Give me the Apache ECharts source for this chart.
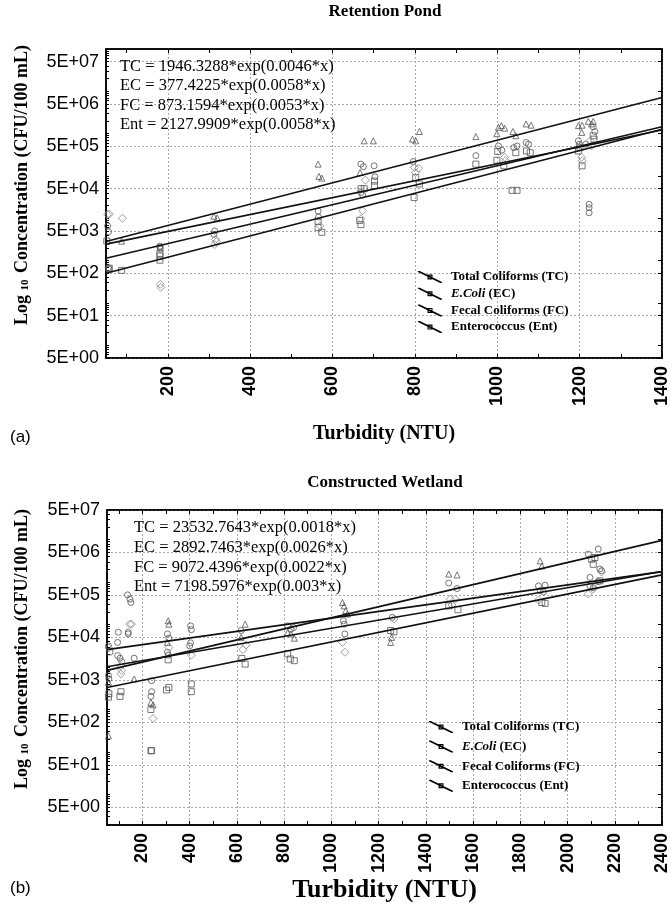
<!DOCTYPE html>
<html><head><meta charset="utf-8">
<script src="https://cdn.jsdelivr.net/npm/echarts@6/dist/echarts.min.js"></script>
<style>html,body{margin:0;padding:0;background:#fff}#c{width:671px;height:906px}</style>
</head><body><div id="c"></div>
<script>
// ---------- data ----------
const seriesNames = ['Total Coliforms (TC)', 'E.Coli (EC)', 'Fecal Coliforms (FC)', 'Enterococcus (Ent)'];
const seriesSymbols = ['circle', 'rect', 'diamond', 'triangle'];

const pondTitle = 'Retention Pond';
const wetTitle = 'Constructed Wetland';
const pondFitA = [1946.3288, 377.4225, 873.1594, 2127.9909];
const pondFitB = [0.0046, 0.0058, 0.0053, 0.0058];
const wetFitA = [23532.7643, 2892.7463, 9072.4396, 7198.5976];
const wetFitB = [0.0018, 0.0026, 0.0022, 0.003];
const pondEquations = ['TC = 1946.3288*exp(0.0046*x)', 'EC = 377.4225*exp(0.0058*x)', 'FC = 873.1594*exp(0.0053*x)', 'Ent = 2127.9909*exp(0.0058*x)'];
const wetEquations = ['TC = 23532.7643*exp(0.0018*x)', 'EC = 2892.7463*exp(0.0026*x)', 'FC = 9072.4396*exp(0.0022*x)', 'Ent = 7198.5976*exp(0.003*x)'];

const pondXTicks = [200, 400, 600, 800, 1000, 1200, 1400];
const wetXTicks = [200, 400, 600, 800, 1000, 1200, 1400, 1600, 1800, 2000, 2200, 2400];
const yTickExponents = [0, 1, 2, 3, 4, 5, 6, 7]; // labels 5E+00 ... 5E+07

// scatter points: [turbidity NTU, log10 concentration CFU/100 mL]
const pondTC = [[54,3.82],[56,3.68],[56,2.83],[57,2.80],[181,3.32],[181,3.34],[182,3.27],[314,3.70],[312,3.62],[565,4.17],[566,4.03],[669,5.28],[675,5.22],[669,4.61],[673,4.55],[701,5.24],[703,4.98],[796,5.34],[948,5.48],[1003,5.71],[1011,5.61],[1040,5.67],[1048,5.71],[1070,5.79],[1076,5.75],[1197,5.83],[1199,5.75],[1223,4.33],[1223,4.25],[1223,4.13],[1233,6.16],[1237,6.05],[1215,5.75]];
const pondEC = [[52,3.46],[58,2.82],[88,2.77],[181,3.17],[181,3.11],[181,3.01],[565,3.78],[574,3.67],[565,3.93],[669,4.70],[677,4.70],[666,3.95],[669,3.85],[702,4.88],[702,4.77],[802,4.96],[811,4.81],[798,4.49],[948,5.28],[1001,5.58],[999,5.37],[1016,5.24],[1045,5.55],[1036,4.66],[1048,4.66],[1071,5.59],[1080,5.55],[1201,5.67],[1197,5.59],[1206,5.24],[1233,5.95],[1235,5.87]];
const pondFC = [[54,4.09],[58,4.10],[90,4.00],[182,2.44],[183,2.37],[316,3.50],[318,3.45],[314,3.38],[570,3.82],[680,4.90],[673,4.18],[669,3.99],[799,5.20],[809,5.18],[802,5.08],[1018,5.44],[1020,5.36],[1205,5.44],[1206,5.36],[1225,5.83],[1229,5.71]];
const pondEnt = [[88,3.46],[312,4.05],[320,4.01],[565,5.28],[567,4.99],[574,4.95],[667,5.08],[677,5.83],[699,5.83],[794,5.87],[802,5.83],[811,6.05],[948,5.93],[1003,6.15],[1010,6.19],[1018,6.13],[999,6.00],[1038,6.05],[1045,5.95],[1070,6.23],[1082,6.20],[1197,6.19],[1206,6.20],[1205,6.03],[1221,6.29],[1233,6.29],[1229,6.23]];

const wetTC = [[56,4.50],[63,4.35],[56,3.80],[58,3.72],[98,4.82],[95,4.58],[95,4.27],[105,4.21],[112,4.13],[137,5.70],[147,5.60],[151,5.52],[140,4.82],[140,4.78],[165,4.21],[239,3.68],[239,3.42],[236,3.31],[306,4.78],[312,4.68],[306,4.35],[309,4.28],[404,4.97],[407,4.88],[404,4.57],[400,4.50],[618,4.86],[815,4.97],[829,4.89],[840,4.93],[1051,5.09],[1054,5.01],[1057,4.78],[1258,5.17],[1497,5.98],[1532,5.85],[1877,5.91],[1905,5.93],[1884,5.80],[1898,5.77],[2088,6.66],[2130,6.78],[2095,6.11],[2144,6.27],[2137,6.31],[2095,5.91],[2109,5.87],[2130,6.01]];
const wetEC = [[58,3.37],[56,3.29],[109,3.42],[105,3.31],[236,3.00],[236,2.03],[239,2.03],[309,4.17],[302,3.46],[312,3.52],[407,3.60],[407,3.42],[621,4.20],[635,4.07],[815,4.31],[826,4.19],[843,4.15],[1251,4.86],[1265,4.83],[1497,5.44],[1536,5.35],[1891,5.52],[1905,5.50],[2102,6.54],[2116,6.58],[2109,6.42],[2137,6.03]];
const wetFC = [[58,4.45],[109,4.03],[112,3.92],[109,3.84],[147,5.01],[154,5.01],[245,2.79],[312,4.46],[407,4.28],[625,4.41],[639,4.52],[1047,4.58],[1057,4.35],[1265,5.13],[1504,5.60],[1525,5.60],[1511,5.46],[1877,5.58],[2088,5.72],[2109,5.84],[2144,6.24]];
const wetEnt = [[56,2.38],[56,3.64],[165,3.72],[236,3.17],[245,3.11],[309,5.09],[312,5.01],[306,4.58],[635,5.01],[618,4.70],[815,4.81],[829,4.78],[843,4.68],[1047,5.52],[1054,5.44],[1061,5.33],[1068,5.25],[1255,4.70],[1251,4.58],[1497,6.19],[1532,6.17],[1884,6.50],[1891,6.38]];

// ---------- chart ----------
const LOG5 = Math.log10(5);
const pondScatter = [pondTC, pondEC, pondFC, pondEnt];
const wetScatter = [wetTC, wetEC, wetFC, wetEnt];
const panels = [
  { grid: { left: 106, top: 49, width: 558, height: 309 }, xMin: 50, xMax: 1400, yMin: LOG5, yMax: 8,
    xTicks: pondXTicks, scatter: pondScatter, A: pondFitA, B: pondFitB, nameGap: 66, nameSize: 20 },
  { grid: { left: 107, top: 510, width: 557, height: 315 }, xMin: 50, xMax: 2400, yMin: 0.28, yMax: 7 + LOG5,
    xTicks: wetXTicks, scatter: wetScatter, A: wetFitA, B: wetFitB, nameGap: 46, nameSize: 26 }
];

const yMajor = yTickExponents.map(n => n + LOG5);
const yMinor = [];
for (let n = 0; n <= 8; n++) for (let k = 1; k <= 9; k++) yMinor.push(n + Math.log10(k));
const yRight = [];
for (let n = 0; n <= 8; n++) { yRight.push(n); yRight.push(n + LOG5); }

const SANS = 'Liberation Sans';
const SERIF = 'Liberation Serif';
const grids = [], xAxes = [], yAxes = [], series = [];

panels.forEach((p, gi) => {
  grids.push(Object.assign({ show: true, borderColor: '#000', borderWidth: 1.5, backgroundColor: 'transparent' }, p.grid));
  const minorX = [];
  for (let v = 100; v <= p.xMax; v += 100) minorX.push(v);
  const xBase = { type: 'value', gridIndex: gi, min: p.xMin, max: p.xMax };
  const xi = xAxes.length;
  xAxes.push(Object.assign({}, xBase, {
    position: 'bottom',
    name: 'Turbidity (NTU)', nameLocation: 'middle', nameGap: p.nameGap,
    nameTextStyle: { fontFamily: SERIF, fontWeight: 'bold', fontSize: p.nameSize, color: '#000' },
    axisLine: { show: true, onZero: false, lineStyle: { color: '#000', width: 1.5 } },
    axisTick: { show: false, customValues: p.xTicks },
    axisLabel: { rotate: 90, margin: 8, fontFamily: SANS, fontWeight: 'bold', fontSize: 18, color: '#000', customValues: p.xTicks,
      formatter: v => String(Math.round(v)) },
    splitLine: { show: true, lineStyle: { color: '#aaa', type: [2, 2], width: 1 } }
  }));
  xAxes.push(Object.assign({}, xBase, {
    position: 'bottom', axisLine: { show: false },
    axisTick: { show: true, inside: true, length: 4, customValues: minorX, lineStyle: { color: '#000' } },
    axisLabel: { show: false }, splitLine: { show: false }
  }));
  xAxes.push(Object.assign({}, xBase, {
    position: 'top', axisLine: { show: true, onZero: false, lineStyle: { color: '#000', width: 1.5 } },
    axisTick: { show: true, inside: true, length: 4, customValues: minorX, lineStyle: { color: '#000' } },
    axisLabel: { show: false }, splitLine: { show: false }
  }));
  const yBase = { type: 'value', gridIndex: gi, min: p.yMin, max: p.yMax };
  const yi = yAxes.length;
  yAxes.push(Object.assign({}, yBase, {
    position: 'left',
    axisLine: { show: true, onZero: false, lineStyle: { color: '#000', width: 1.5 } },
    axisTick: { show: false, customValues: yMajor },
    axisLabel: { margin: 7, fontFamily: SANS, fontSize: 18, color: '#000', customValues: yMajor,
      formatter: v => '5E+' + String(Math.round(v - LOG5)).padStart(2, '0') },
    splitLine: { show: true, lineStyle: { color: '#aaa', type: [2, 2], width: 1 } }
  }));
  yAxes.push(Object.assign({}, yBase, {
    position: 'left', axisLine: { show: false },
    axisTick: { show: true, inside: true, length: 3, customValues: yMinor, lineStyle: { color: '#000' } },
    axisLabel: { show: false }, splitLine: { show: false }
  }));
  yAxes.push(Object.assign({}, yBase, {
    position: 'right', axisLine: { show: true, onZero: false, lineStyle: { color: '#000', width: 1.5 } },
    axisTick: { show: true, inside: true, length: 4, customValues: yRight, lineStyle: { color: '#000' } },
    axisLabel: { show: false }, splitLine: { show: false }
  }));
  // fit lines from the printed equations
  seriesNames.forEach((nm, i) => {
    const f = x => Math.log10(p.A[i]) + p.B[i] * x * Math.LOG10E;
    series.push({ name: nm, type: 'line', xAxisIndex: xi, yAxisIndex: yi, symbol: 'none', z: 4, silent: true,
      data: [[p.xMin, f(p.xMin)], [p.xMax, f(p.xMax)]],
      lineStyle: { color: '#111', width: 1.6 }, itemStyle: { color: '#000' } });
  });
  seriesNames.forEach((nm, i) => {
    series.push({ name: nm, type: 'scatter', xAxisIndex: xi, yAxisIndex: yi, symbol: seriesSymbols[i],
      symbolSize: i === 2 ? 8 : 6, z: 3, silent: true, data: p.scatter[i],
      itemStyle: { color: 'rgba(255,255,255,0)', borderColor: i === 2 ? '#888' : '#555', borderWidth: 1 } });
  });
});

const legendIcon = 'path://M0,0 L1.8,0 L24,11 L24,12 L22.2,12 L0,1 Z M9.5,3.5 L14.5,3.5 L14.5,8.5 L9.5,8.5 Z M10.7,4.7 L10.7,7.3 L13.3,7.3 L13.3,4.7 Z';
function legendOf(left, top, gap) {
  return {
    orient: 'vertical', left: left, top: top, padding: 0, itemWidth: 24, itemHeight: 12, itemGap: gap,
    icon: legendIcon, data: seriesNames, selectedMode: false,
    itemStyle: { color: '#000', borderWidth: 0 },
    formatter: n => n === 'E.Coli (EC)' ? '{i|E.Coli} (EC)' : n,
    textStyle: { fontFamily: SERIF, fontWeight: 'bold', fontSize: 13, color: '#000', lineHeight: 14, padding: [0, 0, 0, 4],
      rich: { i: { fontFamily: SERIF, fontWeight: 'bold', fontStyle: 'italic', fontSize: 13, color: '#000', lineHeight: 14 } } }
  };
}

function eqText(lines, x, y, lh) {
  return { type: 'text', x: x, y: y, silent: true, z: 10,
    style: { text: lines.join('\n'), fontFamily: SERIF, fontSize: 16.5, lineHeight: lh, fill: '#000', align: 'left', verticalAlign: 'top' } };
}
function yTitle(cx, cy) {
  return { type: 'text', x: cx, y: cy, rotation: Math.PI / 2, silent: true,
    style: { text: '{a|Log }{s|10}{a| Concentration (CFU/100 mL)}', align: 'center', verticalAlign: 'middle', fill: '#000',
      rich: { a: { fontFamily: SERIF, fontWeight: 'bold', fontSize: 18, fill: '#000' },
              s: { fontFamily: SERIF, fontWeight: 'bold', fontSize: 11, fill: '#000', padding: [6, 2, 0, 0] } } } };
}

const option = {
  animation: false,
  backgroundColor: '#fff',
  title: [
    { text: pondTitle, left: 385, top: 3, padding: 0, textAlign: 'center', textStyle: { fontFamily: SERIF, fontWeight: 'bold', fontSize: 17, color: '#000' } },
    { text: wetTitle, left: 385, top: 474, padding: 0, textAlign: 'center', textStyle: { fontFamily: SERIF, fontWeight: 'bold', fontSize: 17, color: '#000' } }
  ],
  grid: grids, xAxis: xAxes, yAxis: yAxes, series: series,
  legend: [legendOf(418, 270, 2.7), legendOf(429, 720, 5.6)],
  graphic: [
    eqText(pondEquations, 120, 57, 19.3),
    eqText(wetEquations, 134, 518, 19.7),
    yTitle(22, 185),
    yTitle(22, 649),
    { type: 'text', x: 10, y: 437, silent: true, style: { text: '(a)', fontFamily: SANS, fontSize: 17, fill: '#000', verticalAlign: 'middle' } },
    { type: 'text', x: 10, y: 888, silent: true, style: { text: '(b)', fontFamily: SANS, fontSize: 17, fill: '#000', verticalAlign: 'middle' } }
  ]
};
echarts.init(document.getElementById('c'), null, { renderer: 'canvas' }).setOption(option);
</script></body></html>
